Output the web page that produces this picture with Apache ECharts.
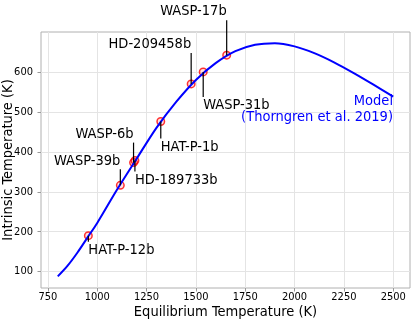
<!DOCTYPE html>
<html>
<head>
<meta charset="utf-8">
<title>Intrinsic vs Equilibrium Temperature</title>
<script src="https://cdn.jsdelivr.net/npm/echarts@6/dist/echarts.min.js"></script>
<style>
html, body { margin: 0; padding: 0; background: #fff; }
#main { width: 415px; height: 320px; }
</style>
</head>
<body>
<div id="main"></div>
<script type="text/javascript">
// model curve (Thorngren et al. 2019)
var curveTeq  = [800, 850, 900, 950, 1000, 1100, 1200, 1300, 1400, 1500, 1600, 1700, 1800, 1900, 2000, 2100, 2200, 2300, 2400, 2500];
var curveTint = [88, 115, 148, 185, 222, 305, 383, 460, 525, 580, 622, 652, 668, 672, 664, 647, 624, 597, 568, 538];

// planets
var planetNames = ['HAT-P-12b', 'WASP-39b', 'WASP-6b', 'HD-189733b', 'HAT-P-1b', 'HD-209458b', 'WASP-31b', 'WASP-17b'];
var planetTeq   = [955, 1117, 1184, 1191, 1322, 1476, 1537, 1656];
var planetTint  = [190, 316, 373, 378, 476, 570, 600, 642];

// axis ticks
var xTicks = [750, 1000, 1250, 1500, 1750, 2000, 2250, 2500];
var yTicks = [100, 200, 300, 400, 500, 600];

// label leader length in px (negative = label above, right aligned)
var labelLeader = [6, -16, -20, 11, 17, -31, 25, -35];

var font = '"DejaVu Sans Condensed", "DejaVu Sans"';
var bigFont = '14.5px ' + font;

var curveData = curveTeq.map(function (t, i) { return [t, curveTint[i]]; });
var planetData = planetTeq.map(function (t, i) { return [t, planetTint[i], i]; });

var myChart = echarts.init(document.getElementById('main'), null, { renderer: 'canvas' });

var option = {
    animation: false,
    backgroundColor: '#fff',
    grid: {
        left: 41, right: 5, top: 32, bottom: 32,
        outerBoundsMode: 'none', containLabel: false,
        show: true, borderColor: '#b0b0b0', borderWidth: 1
    },
    xAxis: {
        type: 'value', min: 715, max: 2585,
        name: 'Equilibrium Temperature (K)', nameLocation: 'middle', nameGap: 17,
        nameMoveOverlap: false,
        nameTextStyle: { fontFamily: font, fontSize: 14.5, color: '#000' },
        axisLine: { show: false },
        axisTick: { show: true, length: 3.5, customValues: xTicks, lineStyle: { color: '#999' } },
        axisLabel: { customValues: xTicks, fontFamily: font, fontSize: 11, color: '#000', margin: 4,
                     formatter: function (v) { return String(v); } },
        splitLine: { show: true, lineStyle: { color: '#e4e4e4', width: 1 } }
    },
    yAxis: {
        type: 'value', min: 59, max: 700,
        name: 'Intrinsic Temperature (K)', nameLocation: 'middle', nameGap: 25,
        nameMoveOverlap: false,
        nameTextStyle: { fontFamily: font, fontSize: 14.5, color: '#000' },
        axisLine: { show: false },
        axisTick: { show: true, length: 3.5, customValues: yTicks, lineStyle: { color: '#999' } },
        axisLabel: { customValues: yTicks, fontFamily: font, fontSize: 11, color: '#000', margin: 8,
                     formatter: function (v) { return String(v); } },
        splitLine: { show: true, lineStyle: { color: '#e4e4e4', width: 1 } }
    },
    graphic: [
        { type: 'text', right: 22, top: 94, z: 10,
          style: { text: 'Model', align: 'right', fill: '#0000ff', font: bigFont } },
        { type: 'text', right: 22, top: 110, z: 10,
          style: { text: '(Thorngren et al. 2019)', align: 'right', fill: '#0000ff', font: bigFont } }
    ],
    series: [
        {
            type: 'scatter',
            data: planetData,
            symbol: 'circle', symbolSize: 7.5,
            itemStyle: { color: 'rgba(255,0,0,0.15)', borderColor: '#ff0000', borderWidth: 1.5 },
            z: 2
        },
        {
            type: 'line',
            data: curveData,
            smooth: 0.3,
            showSymbol: false,
            lineStyle: { color: '#0000ff', width: 2 },
            z: 3
        },
        {
            type: 'custom',
            data: planetData,
            clip: false,
            z: 4,
            renderItem: function (params, api) {
                var i = api.value(2);
                var p = api.coord([api.value(0), api.value(1)]);
                var off = labelLeader[i];
                var yEnd = p[1] + off;
                var above = off < 0;
                return {
                    type: 'group',
                    children: [
                        { type: 'line', shape: { x1: p[0], y1: p[1], x2: p[0], y2: yEnd },
                          style: { stroke: '#000', lineWidth: 1.2 } },
                        { type: 'text',
                          style: {
                              text: planetNames[i],
                              x: p[0], y: above ? yEnd - 1 : yEnd + 1,
                              align: above ? 'right' : 'left',
                              verticalAlign: above ? 'bottom' : 'top',
                              font: bigFont, fill: '#000'
                          } }
                    ]
                };
            }
        }
    ]
};

myChart.setOption(option);
</script>
</body>
</html>
